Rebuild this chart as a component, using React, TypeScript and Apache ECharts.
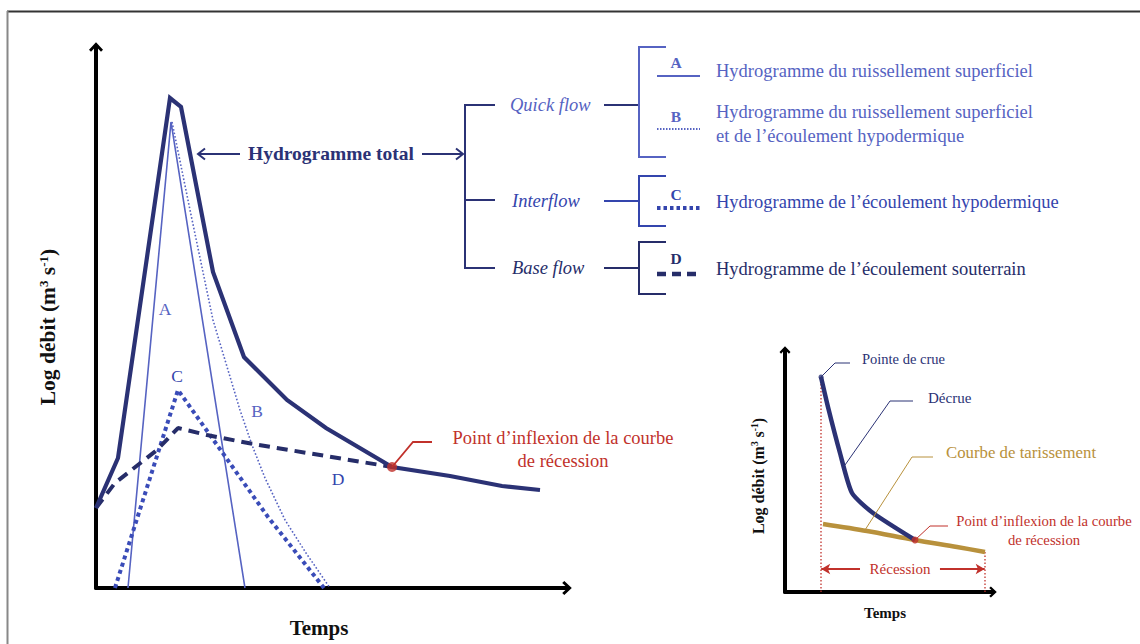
import { useEffect, useRef } from "react";
import * as echarts from "echarts";

// ---- Main hydrograph (units: % of axis length) ----
const totalX = [0, 4.67, 15.71, 18.05, 24.84, 31.42, 40.55, 48.83, 62.85, 75.16, 86.2, 94.27];
const totalY = [14.79, 24.03, 90.57, 88.91, 58.41, 42.7, 34.75, 29.57, 22.37, 20.7, 18.85, 18.11];
const aX = [6.79, 15.92, 31.63];
const aY = [0, 86.14, 0];
const bX = [16.14, 19.96, 24.84, 30.57, 33.12, 35.88, 40.13, 44.59, 49.68];
const bY = [86.14, 69.87, 49.54, 32.9, 26.43, 20.33, 12.57, 6.47, 0];
const cX = [4.03, 17.41, 26.75, 36.52, 48.41];
const cY = [0, 36.6, 25.14, 13.12, 0];
const dX = [0, 4.03, 12.95, 17.41, 23.57, 33.33, 62.85];
const dY = [14.79, 19.41, 25.51, 29.57, 28.28, 26.62, 22.37];
const inflexion = [62.85, 22.37];

// ---- Inset recession chart ----
const decrueX = [17.31, 20.67, 26.44, 32.21, 42.31, 62.5];
const decrueY = [88.84, 76.45, 57.44, 40.91, 32.64, 21.49];
const tarisX = [18.27, 39.42, 62.5, 82.69, 96.15];
const tarisY = [28.1, 25.21, 21.49, 18.6, 16.53];
const insetInflexion = [62.5, 21.49];
const recessionY = 9.5;
const recessionLeft = [36.06, 17.4];
const recessionRight = [74.5, 96.0];

const FONT = "'Liberation Serif', 'DejaVu Serif', serif";
const NAVY = "#2b3275";
const LIGHT = "#5663c2";
const MID = "#3445ad";
const DARK = "#262d69";
const RED = "#c1312b";
const GOLD = "#b8913c";

const zip = (xs: number[], ys: number[]) => xs.map((x, i) => [x, ys[i]]);

const chevron = "path://M7,0 L14,7.5 L12,9.6 L7,4.2 L2,9.6 L0,7.5 Z";

function axisPair(gridIndex: number, size: number[]) {
  const base = {
    gridIndex,
    type: "value" as const,
    min: 0,
    max: 100,
    axisTick: { show: false },
    axisLabel: { show: false },
    splitLine: { show: false },
  };
  return {
    x: {
      ...base,
      axisLine: { show: true, symbol: ["none", chevron], symbolSize: size, lineStyle: { color: "#000", width: 4 } },
    },
    y: {
      ...base,
      axisLine: { show: true, onZero: false, symbol: ["none", chevron], symbolSize: size, lineStyle: { color: "#000", width: 4 } },
    },
  };
}

function txt(text: string, x: number, y: number, size: number, fill: string, opts: any = {}) {
  return {
    type: "text",
    x,
    y,
    rotation: opts.rotation || 0,
    style: {
      text,
      fontFamily: FONT,
      fontSize: size,
      fontWeight: opts.bold ? "bold" : "normal",
      fontStyle: opts.italic ? "italic" : "normal",
      fill,
      align: opts.align || "left",
      textAlign: opts.align || "left",
      verticalAlign: "middle",
      textVerticalAlign: "middle",
      lineHeight: opts.lineHeight,
      rich: opts.rich,
    },
    z: 10,
  };
}

function pl(points: number[][], stroke: string, lineWidth: number, lineDash?: number[]) {
  return {
    type: "polyline",
    shape: { points },
    style: { stroke, lineWidth, fill: "none", lineDash },
    z: 10,
  };
}

function titleRich(size: number, sup: number) {
  return {
    a: { fontFamily: FONT, fontSize: size, fontWeight: "bold", fill: "#111", color: "#111" },
    s: { fontFamily: FONT, fontSize: sup, fontWeight: "bold", fill: "#111", color: "#111", verticalAlign: "top" },
  };
}

export default function App() {
  const ref = useRef<HTMLDivElement>(null);
  useEffect(() => {
    document.body.style.margin = "0";
    const chart = echarts.init(ref.current!, null, { renderer: "svg" });
    const main = axisPair(0, [14, 10]);
    const inset = axisPair(1, [11, 8]);
    const option: any = {
      animation: false,
      backgroundColor: "#fff",
      grid: [
        { left: 96, top: 47, width: 471, height: 541 },
        { left: 785, top: 350, width: 208, height: 242 },
      ],
      xAxis: [main.x, inset.x],
      yAxis: [main.y, inset.y],
      series: [
        {
          type: "line", xAxisIndex: 0, yAxisIndex: 0, data: zip(aX, aY), symbol: "none",
          lineStyle: { color: LIGHT, width: 1.6 }, z: 2,
        },
        {
          type: "line", xAxisIndex: 0, yAxisIndex: 0, data: zip(bX, bY), symbol: "none",
          lineStyle: { color: LIGHT, width: 1.6, type: [1.6, 2] }, z: 2,
        },
        {
          type: "line", xAxisIndex: 0, yAxisIndex: 0, data: zip(cX, cY), symbol: "none",
          lineStyle: { color: "#3a4cb8", width: 4, type: [4, 3.5] }, z: 3,
        },
        {
          type: "line", xAxisIndex: 0, yAxisIndex: 0, data: zip(dX, dY), symbol: "none",
          lineStyle: { color: DARK, width: 4, type: [11, 7] }, z: 3,
        },
        {
          type: "line", xAxisIndex: 0, yAxisIndex: 0, data: zip(totalX, totalY), symbol: "none",
          lineStyle: { color: NAVY, width: 4.2, join: "miter" }, z: 4,
        },
        {
          type: "scatter", xAxisIndex: 0, yAxisIndex: 0, data: [inflexion], symbolSize: 10,
          itemStyle: { color: RED }, z: 6,
        },
        // inset
        {
          type: "line", xAxisIndex: 1, yAxisIndex: 1, data: [[decrueX[0], 0], [decrueX[0], decrueY[0]]], symbol: "none",
          lineStyle: { color: RED, width: 1.3, type: [1.5, 2] }, z: 2,
        },
        {
          type: "line", xAxisIndex: 1, yAxisIndex: 1, data: [[tarisX[tarisX.length - 1], 0], [tarisX[tarisX.length - 1], tarisY[tarisY.length - 1]]], symbol: "none",
          lineStyle: { color: RED, width: 1.3, type: [1.5, 2] }, z: 2,
        },
        {
          type: "line", xAxisIndex: 1, yAxisIndex: 1, data: zip(tarisX, tarisY), symbol: "none", smooth: 0.3,
          lineStyle: { color: GOLD, width: 4.5 }, z: 3,
        },
        {
          type: "line", xAxisIndex: 1, yAxisIndex: 1, data: zip(decrueX, decrueY), symbol: "none", smooth: 0.2,
          lineStyle: { color: NAVY, width: 4.5 }, z: 4,
        },
        {
          type: "scatter", xAxisIndex: 1, yAxisIndex: 1, data: [insetInflexion], symbolSize: 7,
          itemStyle: { color: RED }, z: 6,
        },
        {
          type: "scatter", xAxisIndex: 1, yAxisIndex: 1, data: [[decrueX[0], decrueY[0]]], symbolSize: 5,
          itemStyle: { color: NAVY }, z: 6,
        },
        {
          type: "line", xAxisIndex: 1, yAxisIndex: 1, data: [], symbol: "none",
          markLine: {
            silent: true,
            symbol: ["none", "arrow"],
            symbolSize: [8, 9],
            label: { show: false },
            lineStyle: { color: RED, width: 1.8, type: "solid" },
            data: [
              [{ coord: [recessionLeft[0], recessionY] }, { coord: [recessionLeft[1], recessionY] }],
              [{ coord: [recessionRight[0], recessionY] }, { coord: [recessionRight[1], recessionY] }],
            ],
          },
        },
      ],
      graphic: [
        // frame
        { type: "line", shape: { x1: 7, y1: 11.5, x2: 1140, y2: 11.5 }, style: { stroke: "#333", lineWidth: 2 } },
        { type: "line", shape: { x1: 7.5, y1: 11, x2: 7.5, y2: 644 }, style: { stroke: "#888", lineWidth: 2 } },
        // axis titles main
        txt("{a|Log débit (m}{s|3}{a| s}{s|-1}{a|)}", 48, 327, 21.5, "#111", { rotation: Math.PI / 2, align: "center", rich: titleRich(21.5, 13) }),
        txt("Temps", 319, 628, 21, "#111", { bold: true, align: "center" }),
        // main letters
        txt("A", 165, 309, 17.5, LIGHT, { align: "center" }),
        txt("B", 257, 411, 17.5, LIGHT, { align: "center" }),
        txt("C", 177, 376, 17.5, MID, { align: "center" }),
        txt("D", 338, 479, 17.5, MID, { align: "center" }),
        // inflexion annotation
        pl([[392, 467], [413, 442], [432, 442]], RED, 1.8),
        txt("Point d’inflexion de la courbe\nde récession", 563, 449, 18.5, RED, { align: "center", lineHeight: 23 }),
        // hydrogramme total
        txt("Hydrogramme total", 331, 153, 19.5, NAVY, { bold: true, align: "center" }),
        pl([[240, 154], [198, 154]], NAVY, 2),
        pl([[205, 148.5], [198, 154], [205, 159.5]], NAVY, 2),
        pl([[422, 154], [463, 154]], NAVY, 2),
        pl([[456, 148.5], [463, 154], [456, 159.5]], NAVY, 2),
        pl([[495, 105], [465, 105], [465, 268], [495, 268]], NAVY, 2),
        pl([[465, 200], [495, 200]], NAVY, 2),
        txt("Quick flow", 510, 105, 18.5, LIGHT, { italic: true }),
        txt("Interflow", 512, 201, 18.5, MID, { italic: true }),
        txt("Base flow", 512, 268, 18.5, DARK, { italic: true }),
        pl([[604, 105], [638, 105]], NAVY, 2),
        pl([[604, 201], [638, 201]], MID, 2),
        pl([[604, 268], [638, 268]], DARK, 2),
        pl([[666, 47], [639, 47], [639, 157], [666, 157]], LIGHT, 2),
        pl([[666, 176], [639, 176], [639, 226], [666, 226]], MID, 2),
        pl([[666, 242], [639, 242], [639, 294], [666, 294]], DARK, 2),
        // legend samples
        pl([[657, 76], [700, 76]], LIGHT, 2),
        txt("A", 676, 62, 15.5, LIGHT, { align: "center", bold: true }),
        pl([[657, 129], [700, 129]], LIGHT, 2, [1.5, 1.5]),
        txt("B", 676, 116, 15.5, LIGHT, { align: "center", bold: true }),
        pl([[657, 208], [700, 208]], MID, 4, [3.5, 3]),
        txt("C", 676, 194, 15.5, MID, { align: "center", bold: true }),
        pl([[657, 274], [700, 274]], DARK, 4.5, [9, 6]),
        txt("D", 676, 258, 15.5, DARK, { align: "center", bold: true }),
        txt("Hydrogramme du ruissellement superficiel", 716, 71, 18.5, LIGHT),
        txt("Hydrogramme du ruissellement superficiel\net de l’écoulement hypodermique", 716, 124, 18.5, LIGHT, { lineHeight: 24 }),
        txt("Hydrogramme de l’écoulement hypodermique", 716, 202, 18.5, MID),
        txt("Hydrogramme de l’écoulement souterrain", 716, 269, 18.5, DARK),
        // inset annotations
        txt("{a|Log débit (m}{s|3}{a| s}{s|-1}{a|)}", 758, 476, 16, "#111", { rotation: Math.PI / 2, align: "center", rich: titleRich(16, 9.5) }),
        txt("Temps", 885, 613, 15, "#111", { bold: true, align: "center" }),
        pl([[821, 377], [835, 363], [850, 363]], NAVY, 1),
        txt("Pointe de crue", 862, 359, 14.5, NAVY),
        pl([[845, 465], [890, 401], [913, 401]], NAVY, 1),
        txt("Décrue", 928, 398, 15, NAVY),
        pl([[865, 530], [912, 457], [933, 457]], GOLD, 1),
        txt("Courbe de tarissement", 946, 452, 16.8, GOLD),
        pl([[915, 540], [930, 526], [948, 526]], RED, 1),
        txt("Point d’inflexion de la courbe\nde récession", 1044, 530, 14.7, RED, { align: "center", lineHeight: 19 }),
        txt("Récession", 900, 569, 15, RED, { align: "center" }),
      ],
    };
    chart.setOption(option);
    return () => chart.dispose();
  }, []);
  return <div ref={ref} style={{ position: "absolute", left: 0, top: 0, width: 1140, height: 644 }} />;
}
